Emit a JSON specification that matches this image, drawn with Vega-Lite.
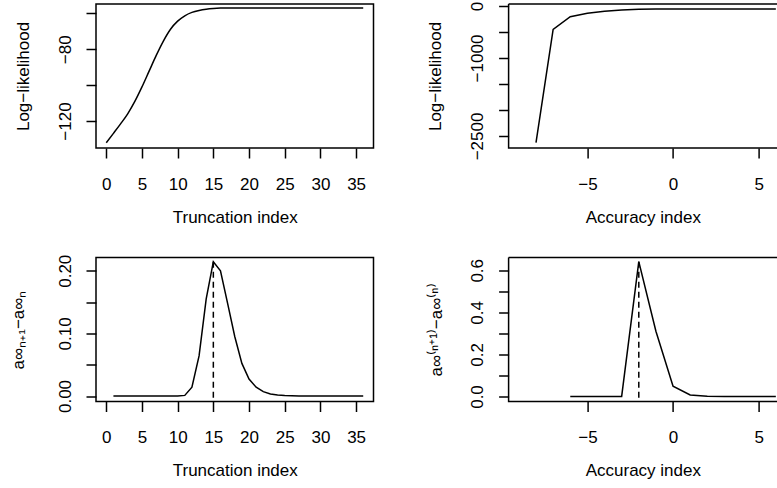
{
  "$schema": "https://vega.github.io/schema/vega-lite/v6.json",
  "background": "white",
  "padding": {"left": 8, "top": 0, "right": 0, "bottom": 0},
  "autosize": {"type": "pad"},
  "datasets": {
    "trunc_ll": [
      {"n": 0, "ll": -132.1}, {"n": 1, "ll": -126.9}, {"n": 2, "ll": -121.6}, {"n": 3, "ll": -116.0},
      {"n": 4, "ll": -109.1}, {"n": 5, "ll": -101.0}, {"n": 6, "ll": -92.2}, {"n": 7, "ll": -83.4},
      {"n": 8, "ll": -75.4}, {"n": 9, "ll": -68.8}, {"n": 10, "ll": -64.3}, {"n": 11, "ll": -61.3},
      {"n": 12, "ll": -59.4}, {"n": 13, "ll": -58.3}, {"n": 14, "ll": -57.6}, {"n": 15, "ll": -57.2},
      {"n": 16, "ll": -57.0}, {"n": 17, "ll": -56.95}, {"n": 18, "ll": -56.9}, {"n": 19, "ll": -56.9},
      {"n": 20, "ll": -56.9}, {"n": 21, "ll": -56.9}, {"n": 22, "ll": -56.9}, {"n": 23, "ll": -56.9},
      {"n": 24, "ll": -56.9}, {"n": 25, "ll": -56.9}, {"n": 26, "ll": -56.9}, {"n": 27, "ll": -56.9},
      {"n": 28, "ll": -56.9}, {"n": 29, "ll": -56.9}, {"n": 30, "ll": -56.9}, {"n": 31, "ll": -56.9},
      {"n": 32, "ll": -56.9}, {"n": 33, "ll": -56.9}, {"n": 34, "ll": -56.9}, {"n": 35, "ll": -56.9},
      {"n": 36, "ll": -56.9}
    ],
    "acc_ll": [
      {"k": -8, "ll": -2629}, {"k": -7, "ll": -448}, {"k": -6, "ll": -206}, {"k": -5, "ll": -141},
      {"k": -4, "ll": -102}, {"k": -3, "ll": -76}, {"k": -2, "ll": -64}, {"k": -1, "ll": -59},
      {"k": 0, "ll": -58}, {"k": 1, "ll": -58}, {"k": 2, "ll": -58}, {"k": 3, "ll": -58},
      {"k": 4, "ll": -58}, {"k": 5, "ll": -58}, {"k": 6, "ll": -58}
    ],
    "trunc_diff": [
      {"n": 1, "d": 0}, {"n": 2, "d": 0}, {"n": 3, "d": 0}, {"n": 4, "d": 0}, {"n": 5, "d": 0},
      {"n": 6, "d": 0}, {"n": 7, "d": 0}, {"n": 8, "d": 0}, {"n": 9, "d": 0}, {"n": 10, "d": 0},
      {"n": 11, "d": 0.001}, {"n": 12, "d": 0.014}, {"n": 13, "d": 0.064}, {"n": 14, "d": 0.155},
      {"n": 15, "d": 0.2144}, {"n": 16, "d": 0.2}, {"n": 17, "d": 0.148}, {"n": 18, "d": 0.095},
      {"n": 19, "d": 0.052}, {"n": 20, "d": 0.027}, {"n": 21, "d": 0.014}, {"n": 22, "d": 0.007},
      {"n": 23, "d": 0.0032}, {"n": 24, "d": 0.0015}, {"n": 25, "d": 0.0007}, {"n": 26, "d": 0.0003},
      {"n": 27, "d": 0}, {"n": 28, "d": 0}, {"n": 29, "d": 0}, {"n": 30, "d": 0}, {"n": 31, "d": 0},
      {"n": 32, "d": 0}, {"n": 33, "d": 0}, {"n": 34, "d": 0}, {"n": 35, "d": 0}, {"n": 36, "d": 0}
    ],
    "acc_diff": [
      {"k": -6, "d": 0}, {"k": -5, "d": 0}, {"k": -4, "d": 0}, {"k": -3, "d": 0.0005},
      {"k": -2, "d": 0.641}, {"k": -1, "d": 0.31}, {"k": 0, "d": 0.049}, {"k": 1, "d": 0.007},
      {"k": 2, "d": 0.001}, {"k": 3, "d": 0}, {"k": 4, "d": 0}, {"k": 5, "d": 0}, {"k": 6, "d": 0}
    ],
    "trunc_peak": [{"n": 15, "d": 0.2144}],
    "acc_peak": [{"k": -2, "d": 0.641}]
  },
  "columns": 2,
  "bounds": "flush",
  "spacing": {"row": 109.5, "column": 134.6},
  "concat": [
    {
      "width": 277.5,
      "height": 144,
      "data": {"name": "trunc_ll"},
      "mark": {"type": "line", "color": "black", "strokeWidth": 1.5, "interpolate": "monotone"},
      "encoding": {
        "x": {"field": "n", "type": "quantitative", "scale": {"domain": [-1.44, 37.44], "nice": false, "zero": false},
              "axis": {"values": [0, 5, 10, 15, 20, 25, 30, 35], "title": "Truncation index", "labelOverlap": false}},
        "y": {"field": "ll", "type": "quantitative", "scale": {"domain": [-135.06, -54.73], "nice": false, "zero": false},
              "axis": {"values": [-120, -100, -80, -60], "labelExpr": "datum.value == -80 || datum.value == -120 ? datum.label : ''", "title": "Log−likelihood", "labelOverlap": false, "titlePadding": 23}}
      }
    },
    {
      "width": 268.5,
      "height": 144,
      "view": {"stroke": "black", "strokeWidth": 1.5, "strokeDash": [268.5, 144, 412.5, 0]},
      "data": {"name": "acc_ll"},
      "mark": {"type": "line", "color": "black", "strokeWidth": 1.5},
      "encoding": {
        "x": {"field": "k", "type": "quantitative", "scale": {"domain": [-9.6, 6.074], "nice": false, "zero": false},
              "axis": {"values": [-5, 0, 5], "title": "Accuracy index", "labelOverlap": false}},
        "y": {"field": "ll", "type": "quantitative", "scale": {"domain": [-2730.8, 38.5], "nice": false, "zero": false},
              "axis": {"values": [-2500, -2000, -1500, -1000, -500, 0], "format": "d", "labelExpr": "datum.value == 0 || datum.value == -1000 || datum.value == -2500 ? datum.label : ''", "title": "Log−likelihood", "labelOverlap": false, "titlePadding": 23}}
      }
    },
    {
      "width": 277.5,
      "height": 144,
      "encoding": {
        "x": {"field": "n", "type": "quantitative", "scale": {"domain": [-1.44, 37.44], "nice": false, "zero": false},
              "axis": {"values": [0, 5, 10, 15, 20, 25, 30, 35], "title": "Truncation index", "labelOverlap": false}},
        "y": {"field": "d", "type": "quantitative", "scale": {"domain": [-0.00878, 0.2211], "nice": false, "zero": false},
              "axis": {"values": [0, 0.05, 0.1, 0.15, 0.2], "format": ".2f", "labelExpr": "datum.label == '0.00' || datum.label == '0.10' || datum.label == '0.20' ? datum.label : ''", "title": "a∞ₙ₊₁−a∞ₙ", "labelOverlap": false, "titlePadding": 28}}
      },
      "layer": [
        {
          "data": {"name": "trunc_diff"},
          "mark": {"type": "line", "color": "black", "strokeWidth": 1.5}
        },
        {
          "data": {"name": "trunc_peak"},
          "mark": {"type": "rule", "color": "black", "strokeWidth": 1.5, "strokeDash": [6, 4]},
          "encoding": {"y2": {"datum": -0.00878}}
        }
      ]
    },
    {
      "width": 268.5,
      "height": 144,
      "view": {"stroke": "black", "strokeWidth": 1.5, "strokeDash": [268.5, 144, 412.5, 0]},
      "encoding": {
        "x": {"field": "k", "type": "quantitative", "scale": {"domain": [-9.6, 6.074], "nice": false, "zero": false},
              "axis": {"values": [-5, 0, 5], "title": "Accuracy index", "labelOverlap": false}},
        "y": {"field": "d", "type": "quantitative", "scale": {"domain": [-0.0238, 0.6609], "nice": false, "zero": false},
              "axis": {"values": [0, 0.1, 0.2, 0.3, 0.4, 0.5, 0.6], "format": ".1f", "labelExpr": "datum.label == '0.0' || datum.label == '0.2' || datum.label == '0.4' || datum.label == '0.6' ? datum.label : ''", "title": "a∞⁽ⁿ⁺¹⁾−a∞⁽ⁿ⁾", "labelOverlap": false, "titlePadding": 22}}
      },
      "layer": [
        {
          "data": {"name": "acc_diff"},
          "mark": {"type": "line", "color": "black", "strokeWidth": 1.5}
        },
        {
          "data": {"name": "acc_peak"},
          "mark": {"type": "rule", "color": "black", "strokeWidth": 1.5, "strokeDash": [6, 4]},
          "encoding": {"y2": {"datum": -0.0238}}
        }
      ]
    }
  ],
  "config": {
    "font": "Liberation Sans",
    "view": {"stroke": "black", "strokeWidth": 1.5},
    "axis": {
      "grid": false,
      "domain": false,
      "tickColor": "black",
      "tickWidth": 1.5,
      "tickSize": 10,
      "labelColor": "black",
      "titleColor": "black",
      "labelFont": "Liberation Sans",
      "titleFont": "Liberation Sans",
      "labelFontSize": 17,
      "titleFontSize": 17,
      "titleFontWeight": "normal",
      "labelFlush": false,
      "labelOverlap": false
    },
    "axisX": {
      "labelAngle": 0,
      "labelAlign": "center",
      "labelBaseline": "middle",
      "labelPadding": 26,
      "minExtent": 45,
      "maxExtent": 45,
      "titlePadding": 24,
      "titleBaseline": "middle"
    },
    "axisY": {
      "labelAngle": -90,
      "labelAlign": "center",
      "labelBaseline": "middle",
      "labelPadding": 21,
      "minExtent": 50,
      "maxExtent": 50,
      "titlePadding": 21,
      "titleBaseline": "middle"
    }
  }
}
